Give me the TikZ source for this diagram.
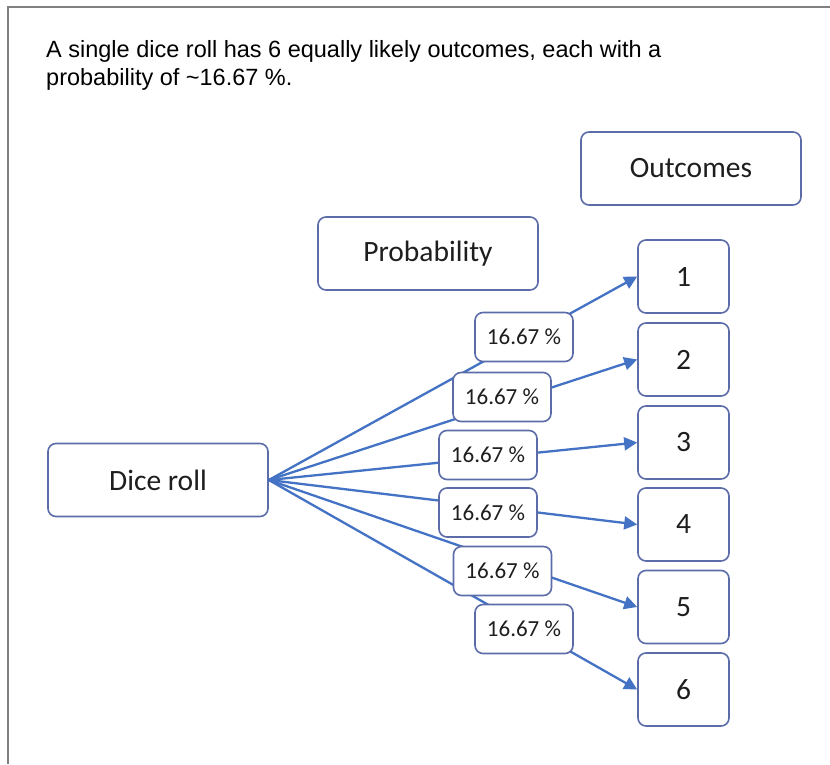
\documentclass[tikz,border=0pt]{standalone}
\usepackage{fontspec}
\setmainfont{Liberation Sans}
\newfontfamily\calib{Carlito}
\usetikzlibrary{arrows.meta}
\definecolor{lineblue}{RGB}{68,114,196}
\definecolor{boxblue}{RGB}{92,108,168}
\definecolor{framegray}{RGB}{128,128,128}
\definecolor{txt}{RGB}{30,30,30}
\tikzset{
  boxstyle/.style={draw=boxblue, line width=1.6pt, rounded corners=8pt, fill=white, text=txt,
    inner sep=0pt, font=\calib\fontsize{29.5}{34}\selectfont},
  bigbox/.style={boxstyle, minimum width=220pt, minimum height=73pt},
  outbox/.style={boxstyle, minimum width=91pt, minimum height=73pt},
  lblbox/.style={boxstyle, minimum width=98pt, minimum height=49pt, font=\calib\fontsize{23}{26}\selectfont},
  conn/.style={draw=lineblue, line width=2.3pt, -{Triangle[length=13pt,width=13pt]}},
  toptext/.style={anchor=base west, inner sep=0pt, font=\fontsize{23.5}{28}\selectfont}
}
\begin{document}
\begin{tikzpicture}[x=1pt,y=-1pt]
\useasboundingbox (0,0) rectangle (830,764);
\fill[white] (0,0) rectangle (830,764);
\draw[framegray, line width=2pt] (8,764) -- (8,7) -- (830,7);
\node[toptext] (t1) at (46,57) {A single dice roll has 6 equally likely outcomes, each with a};
\node[toptext] (t2) at (46,85) {probability of \textasciitilde16.67 \%.};
\node[bigbox] (dice) at (158,480) {Dice roll};
\node[bigbox] (prob) at (428,253.5) {Probability};
\node[bigbox] (outc) at (691,168.5) {Outcomes};
\node[outbox] (o1) at (683.5,276.5) {1};
\node[outbox] (o2) at (683.5,359.5) {2};
\node[outbox] (o3) at (683.5,442.5) {3};
\node[outbox] (o4) at (683.5,524.5) {4};
\node[outbox] (o5) at (683.5,607) {5};
\node[outbox] (o6) at (683.5,689.5) {6};
\foreach \i in {1,...,6} {\draw[conn] (dice.east) -- (o\i.west);}
\node[lblbox] (l1) at (524,337) {16.67 \%};
\node[lblbox] (l2) at (502,397) {16.67 \%};
\node[lblbox] (l3) at (488,455) {16.67 \%};
\node[lblbox] (l4) at (488,512.5) {16.67 \%};
\node[lblbox] (l5) at (502.5,571) {16.67 \%};
\node[lblbox] (l6) at (524,629) {16.67 \%};
\end{tikzpicture}
\end{document}
